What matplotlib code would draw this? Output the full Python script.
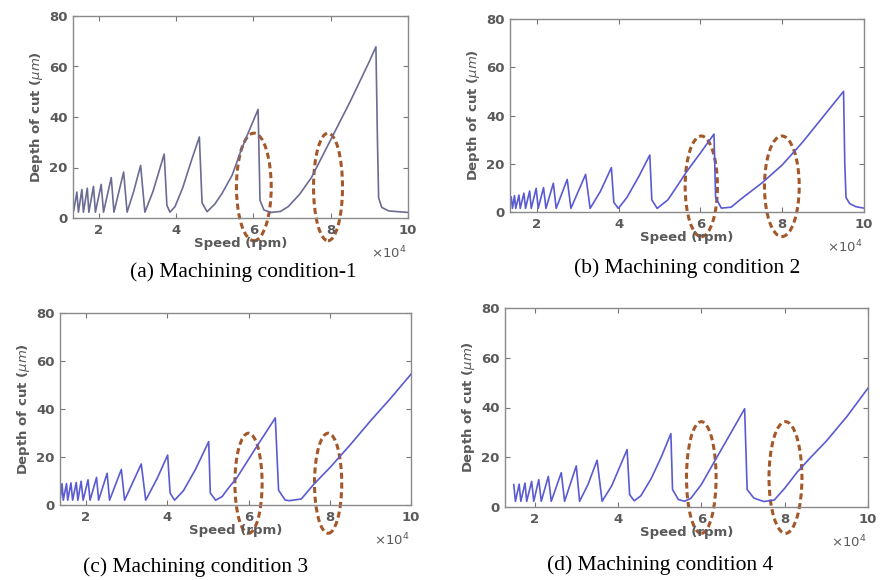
import matplotlib
matplotlib.use("Agg")
import matplotlib.pyplot as plt
from matplotlib.patches import Ellipse

# Stability lobes: spindle speed (x 10^4 rpm) vs. limiting depth of cut (um)
speed_a = [1.35, 1.43, 1.47, 1.56, 1.60, 1.70, 1.74, 1.86, 1.91, 2.06, 2.12,
           2.32, 2.39, 2.64, 2.73, 2.90, 3.08, 3.19, 3.40, 3.69, 3.76, 3.84,
           3.97, 4.17, 4.40, 4.60, 4.67, 4.80, 5.00, 5.19, 5.45, 5.70, 5.90,
           6.12, 6.17, 6.27, 6.45, 6.70, 6.90, 7.20, 7.50, 8.00, 8.50, 9.00,
           9.17, 9.21, 9.24, 9.32, 9.50, 10.0]
depth_a = [3.0, 10.3, 2.3, 11.3, 2.3, 11.8, 2.3, 12.5, 2.3, 13.3, 2.3,
           16.0, 2.3, 18.2, 2.3, 10.5, 20.8, 2.3, 10.5, 25.3, 5.0, 2.3,
           4.5, 12.0, 23.0, 32.1, 6.0, 2.5, 5.5, 9.8, 17.0, 27.6, 35.0,
           43.0, 7.0, 3.2, 2.2, 2.6, 4.5, 9.5, 16.0, 31.0, 46.0, 62.0,
           67.8, 30.0, 8.0, 4.2, 2.8, 2.2]

speed_b = [1.345, 1.37, 1.40, 1.45, 1.48, 1.56, 1.59, 1.68, 1.72, 1.82, 1.86,
           1.98, 2.03, 2.16, 2.22, 2.40, 2.47, 2.74, 2.83, 3.19, 3.30, 3.55,
           3.82, 3.88, 3.99, 4.20, 4.50, 4.76, 4.81, 4.94, 5.20, 5.40, 5.66,
           6.00, 6.33, 6.37, 6.51, 6.75, 7.00, 7.50, 8.00, 8.50, 9.00, 9.50,
           9.53, 9.56, 9.65, 9.80, 10.0]
depth_b = [3.5, 6.3, 1.5, 6.8, 1.5, 7.0, 1.5, 7.8, 1.5, 8.7, 1.5,
           9.8, 1.5, 10.1, 1.5, 11.9, 1.5, 13.5, 1.5, 15.6, 1.5, 8.5,
           18.4, 4.0, 1.5, 6.0, 15.0, 23.6, 5.0, 1.5, 5.0, 10.0, 16.7,
           24.5, 32.3, 6.0, 1.6, 2.0, 5.5, 12.0, 19.5, 29.0, 39.5, 50.0,
           20.0, 6.0, 3.5, 2.2, 1.6]

speed_c = [1.37, 1.41, 1.44, 1.52, 1.55, 1.63, 1.67, 1.76, 1.80, 1.88, 1.93,
           2.05, 2.10, 2.26, 2.31, 2.52, 2.58, 2.87, 2.95, 3.36, 3.47, 3.75,
           4.01, 4.07, 4.18, 4.40, 4.70, 5.02, 5.06, 5.19, 5.35, 5.55, 5.70,
           6.20, 6.66, 6.74, 6.90, 7.00, 7.30, 7.60, 8.00, 8.50, 9.00, 9.50,
           10.0]
depth_c = [3.0, 8.9, 2.0, 8.9, 2.0, 9.2, 2.0, 9.4, 2.0, 9.9, 2.0,
           10.5, 2.0, 11.5, 2.0, 13.2, 2.0, 14.8, 2.0, 17.1, 2.0, 11.0,
           20.8, 5.0, 2.0, 6.0, 15.0, 26.4, 5.0, 2.0, 3.5, 8.0, 11.0,
           24.3, 36.3, 6.2, 2.1, 1.8, 2.5, 8.5, 15.5, 25.0, 35.0, 44.5,
           54.5]

speed_d = [1.50, 1.54, 1.63, 1.67, 1.77, 1.81, 1.93, 1.98, 2.10, 2.16, 2.33,
           2.40, 2.64, 2.72, 3.00, 3.08, 3.28, 3.50, 3.62, 3.85, 4.22, 4.28,
           4.39, 4.55, 4.80, 5.05, 5.27, 5.31, 5.45, 5.60, 5.75, 6.00, 6.34,
           6.70, 7.04, 7.10, 7.26, 7.50, 7.75, 8.00, 8.30, 8.60, 9.00, 9.50,
           10.0]
depth_d = [9.0, 2.3, 9.2, 2.3, 9.6, 2.3, 10.3, 2.3, 11.0, 2.3, 12.3,
           2.3, 13.8, 2.3, 16.5, 2.3, 9.0, 18.8, 2.3, 8.5, 23.1, 5.0,
           2.5, 4.5, 11.5, 20.5, 29.5, 7.0, 3.0, 2.3, 3.5, 9.0, 19.0,
           29.5, 39.5, 7.0, 3.6, 2.2, 2.8, 7.5, 14.0, 19.5, 26.5, 36.5,
           47.8]

captions = ["(a) Machining condition-1", "(b) Machining condition 2",
            "(c) Machining condition 3", "(d) Machining condition 4"]

# speeds of the two marked regions in each panel
mark_a = [6.01, 7.93]
mark_b = [6.02, 7.99]
mark_c = [6.00, 7.96]
mark_d = [6.00, 8.02]

x_ticks = [2, 4, 6, 8, 10]
y_ticks = [0, 20, 40, 60, 80]

fig = plt.figure(figsize=(8.8, 5.8), dpi=100)


def px_axes(x0, y0, x1, y1):
    return fig.add_axes([x0 / 880, 1 - y1 / 580, (x1 - x0) / 880, (y1 - y0) / 580])


panels = [
    (speed_a, depth_a, mark_a, (73, 16, 408, 218), 1.33, "#6b6b94",
     [0.90, 0.75], (-9.0, 33.6), (243, 272)),
    (speed_b, depth_b, mark_b, (510, 19, 864, 212), 1.34, "#5a5ad2",
     [0.79, 0.85], (-10.2, 31.5), (687, 268)),
    (speed_c, depth_c, mark_c, (60, 313, 411, 505), 1.36, "#5a5ad2",
     [0.67, 0.67], (-11.8, 29.9), (196, 567)),
    (speed_d, depth_d, mark_d, (505, 308, 868, 507), 1.29, "#5a5ad2",
     [0.71, 0.79], (-10.6, 34.3), (660, 565)),
]

grey = "#5a5a5a"
for i, (sp, dp, marks, box, x0, color, widths, ylims, cap) in enumerate(panels):
    ax = px_axes(*box)
    ax.plot(sp, dp, color=color, lw=1.2)
    ax.set_xlim(x0, 10)
    ax.set_ylim(0, 80)
    ax.set_xticks(x_ticks)
    ax.set_yticks(y_ticks)
    ax.tick_params(direction="in", length=3.5, top=True, right=True,
                   labelsize=9.5, labelcolor=grey, color="#777777", pad=4)
    for lab in ax.get_xticklabels() + ax.get_yticklabels():
        lab.set_fontweight("bold")
    for s in ax.spines.values():
        s.set_color("#8a8a8a")
        s.set_linewidth(1.0)
    ax.set_xlabel("Speed (rpm)", fontsize=9.5, fontweight="bold", color=grey,
                  labelpad=0)
    ax.set_ylabel(r"Depth of cut ($\mu m$)", fontsize=9.5, fontweight="bold",
                  color=grey, labelpad=3)
    ax.annotate(r"$\times10^4$", xy=(1.0, 0), xycoords="axes fraction",
                xytext=(-1, -25), textcoords="offset points", ha="right",
                va="center", fontsize=9.5, color=grey)

    lo, hi = ylims
    for cx, w in zip(marks, widths):
        ax.add_patch(Ellipse((cx, (lo + hi) / 2), w, hi - lo, fill=False,
                             edgecolor="#a4582a", lw=2.2,
                             linestyle=(0, (2.0, 1.2)), clip_on=False))

    fig.text(cap[0] / 880, 1 - cap[1] / 580, captions[i], ha="center",
             va="center", fontsize=15.5, family="Liberation Serif")

fig.savefig("out.png", dpi=100)
